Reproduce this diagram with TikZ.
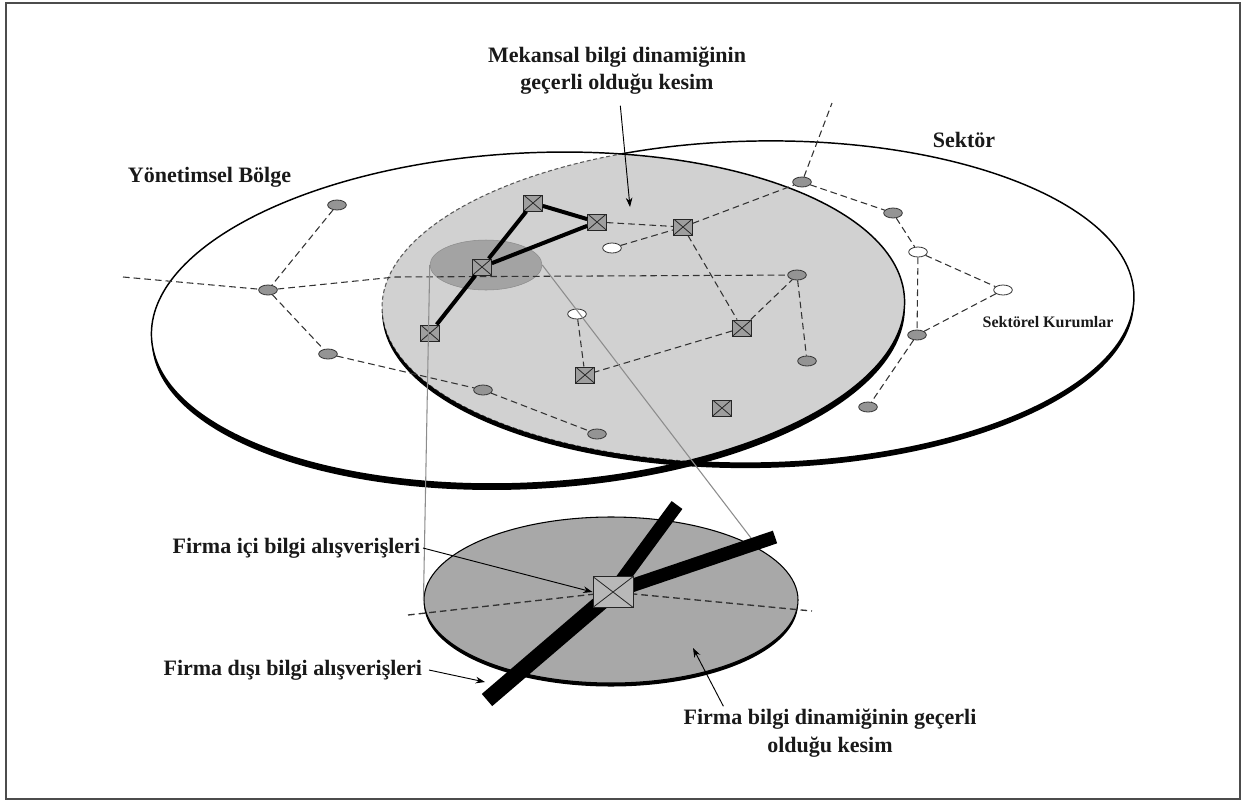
\documentclass[tikz,border=0pt]{standalone}
\usepackage{fontspec}
\setmainfont{Liberation Serif}
\usetikzlibrary{calc, positioning}
\usetikzlibrary{arrows.meta}
\usetikzlibrary{shapes.geometric}

\tikzset{
  kurum/.style={ellipse, draw=black!80, line width=0.6pt, fill=kurumgri,
    minimum width=14pt, minimum height=7.5pt, inner sep=0pt},
  akurum/.style={kurum, fill=white},
  firma/.style={rectangle, draw=black!85, line width=0.7pt, fill=firmagri,
    minimum width=14pt, minimum height=12pt, inner sep=0pt,
    path picture={\draw[line width=0.6pt]
      (path picture bounding box.north west) -- (path picture bounding box.south east)
      (path picture bounding box.north east) -- (path picture bounding box.south west);}},
  ag/.style={draw=black!80, line width=0.8pt, dash pattern=on 5pt off 3pt},
  firmaag/.style={draw=black, line width=3pt, line join=round},
  cubuk/.style={draw=black, line width=10pt},
  ok/.style={draw=black, line width=0.7pt, -{Stealth[length=7pt, width=5pt]}},
  lupcizgi/.style={draw=black!45, line width=0.8pt},
  etiket/.style={inner sep=2pt, text=black!90, align=center},
  bolgedon/.style={rotate around={3:(528,318)}},
  sektordon/.style={rotate around={1:(758,302)}}
}

\begin{document}
\begin{tikzpicture}[x=0.75pt, y=-0.75pt, font=\bfseries\fontsize{16.5}{20.5}\selectfont]
\colorlet{kesimgri}{black!18}
\colorlet{lupgri}{black!36}
\colorlet{diskgri}{black!34}
\colorlet{kurumgri}{black!42}
\colorlet{firmagri}{black!38}
\def\bolgeyolu{(528,318) ellipse [x radius=377, y radius=165]}
\def\bolgealtyolu{(528,324) ellipse [x radius=377, y radius=165]}
\def\sektoryolu{(758,302) ellipse [x radius=376, y radius=161]}
\def\sektoraltyolu{(758,307) ellipse [x radius=376, y radius=161]}

\useasboundingbox (0,0) rectangle (1244,801);
\draw[black!70, line width=1.5pt] (5.5,2.5) rectangle (1240,799);

\draw[sektordon, line width=1.1pt] \sektoryolu;
\begin{scope}
  \clip[bolgedon] \bolgeyolu;
  \draw[sektordon, white, line width=2.6pt] \sektoryolu;
  \fill[sektordon, kesimgri] \sektoryolu;
  \draw[sektordon, black!65, line width=0.8pt, dash pattern=on 3pt off 2pt] \sektoryolu;
\end{scope}
\draw[bolgedon, line width=1.1pt] \bolgeyolu;

\begin{scope}
  \clip[bolgedon] (0,318) rectangle (1300,900);
  \fill[bolgedon, even odd rule] \bolgealtyolu \bolgeyolu;
\end{scope}
\begin{scope}
  \clip[sektordon] (0,302) rectangle (1300,900);
  \fill[sektordon, even odd rule] \sektoraltyolu \sektoryolu;
\end{scope}

\node[ellipse, draw=black!45, fill=lupgri, minimum width=84pt, minimum height=37.5pt,
  inner sep=0pt] (lup) at (486,265) {};

\node[firma] (F1) at (533,203) {};
\node[firma] (F2) at (597,222) {};
\node[firma] (F3) at (683,227) {};
\node[firma] (F4) at (482,267) {};
\node[firma] (F5) at (430,333) {};
\node[firma] (F6) at (585,375) {};
\node[firma] (F7) at (742,328) {};
\node[firma] (F8) at (722,408) {};

\node[kurum] (K1) at (337,205) {};
\node[kurum] (K2) at (268,290) {};
\node[kurum] (K3) at (328,354) {};
\node[kurum] (K4) at (483,390) {};
\node[kurum] (K5) at (597,434) {};
\node[kurum] (K6) at (797,275) {};
\node[kurum] (K7) at (807,361) {};
\node[kurum] (K8) at (802,182) {};
\node[kurum] (K9) at (893,213) {};
\node[kurum] (K10) at (917,335) {};
\node[kurum] (K11) at (868,407) {};

\node[akurum] (A1) at (612,248) {};
\node[akurum] (A2) at (577,314) {};
\node[akurum] (A3) at (918,252) {};
\node[akurum] (A4) at (1003,290) {};

\coordinate (solUc) at (123,277);
\coordinate (kirik) at (395,277);
\coordinate (ustUc) at (832,103);

\foreach \a/\b in {K1/K2, K2/K3, K3/K4, K4/K5, F2/F3, A1/F3, F3/K8, K8/K9,
  K9/A3, A3/A4, A3/K10, A4/K10, K10/K11, F3/F7, F7/K6, K6/K7, F7/F6, A2/F6} {
  \draw[ag] (\a) -- (\b);
}
\draw[ag] (solUc) -- (K2) -- (kirik) -- (K6);
\draw[ag] (K8) -- (ustUc);
\draw[firmaag] (F5) -- (F4) -- (F1) -- (F2) -- (F4);

\fill (611,603.5) ellipse [x radius=187, y radius=83];
\node[ellipse, draw, line width=0.8pt, fill=diskgri, minimum width=280.5pt,
  minimum height=124.5pt, inner sep=0pt] (disk) at (611,600) {};
\draw[lupcizgi] (lup.west) -- (disk.west);
\draw[lupcizgi] (lup.east) -- (disk.19);

\coordinate (FM) at (613,592);
\coordinate (DL) at (408,615);
\coordinate (DR) at (812,611);
\coordinate (cubukA) at (487,700);
\coordinate (cubukB) at (677,505);
\coordinate (cubukC) at (775,537);
\draw[ag, line width=1pt] (DL) -- (FM) -- (DR);
\draw[cubuk, line width=12pt] (FM) -- (cubukA);
\draw[cubuk] (FM) -- (cubukB);
\draw[cubuk] (FM) -- (cubukC);
\node[firma, fill=black!28, minimum width=30pt, minimum height=23pt] (FMkutu) at (FM) {};

\node[etiket] (mekansal) at (617,71) {Mekansal bilgi dinamiğinin\\geçerli olduğu kesim};
\node[etiket, anchor=west] (yonetimsel) at (125,177) {Yönetimsel Bölge};
\node[etiket] (sektor) at (964,140) {Sektör};
\node[etiket, font=\bfseries\fontsize{12}{14}\selectfont] (kurumlar) at (1048,322) {Sektörel Kurumlar};
\node[etiket, anchor=east] (ici) at (423,548) {Firma içi bilgi alışverişleri};
\node[etiket, anchor=east] (disi) at (425,670) {Firma dışı bilgi alışverişleri};
\node[etiket] (firmakesim) at (830,733) {Firma bilgi dinamiğinin geçerli\\olduğu kesim};

\coordinate (mekansalUc) at (630,207);
\coordinate (disiUc) at (485,682);
\coordinate (diskUc) at (693,648);
\draw[ok, shorten <=6pt] (mekansal) -- (mekansalUc);
\draw[ok] (ici.east) -- (FMkutu.west);
\draw[ok] ([xshift=3pt]disi.east) -- (disiUc);
\draw[ok] ([xshift=32pt]firmakesim.north west) -- (diskUc);
\end{tikzpicture}
\end{document}
